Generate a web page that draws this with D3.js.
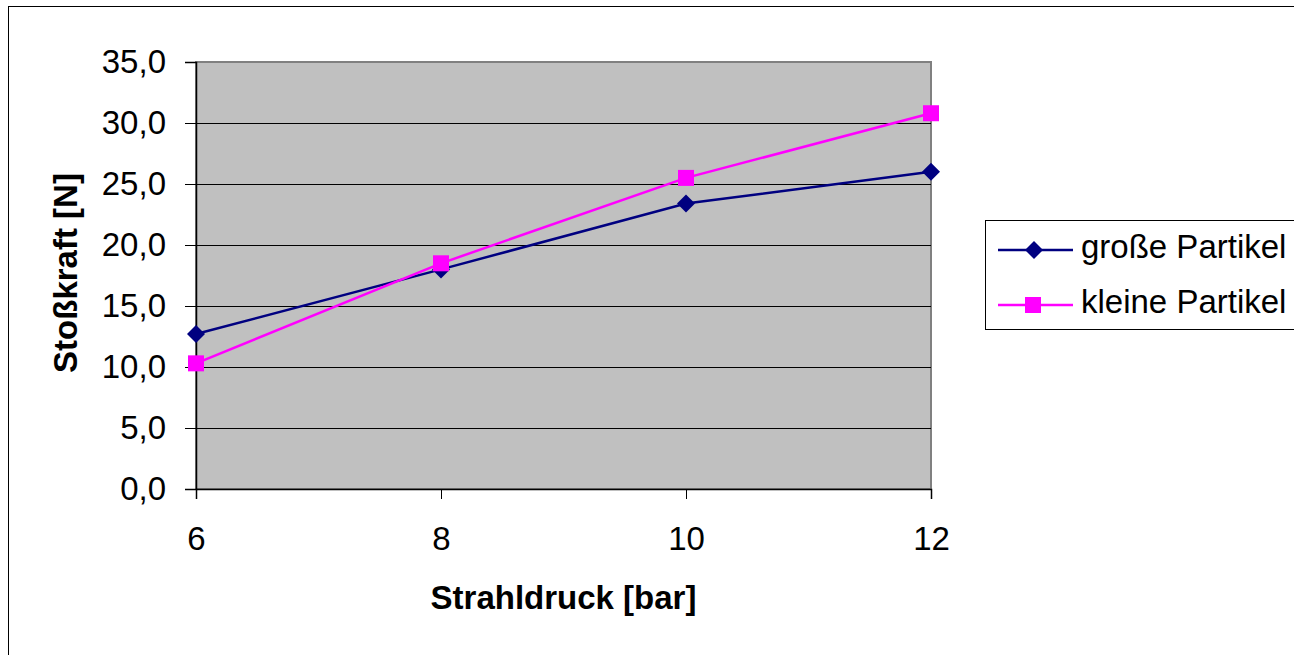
<!DOCTYPE html>
<html><head><meta charset="utf-8">
<script src="https://cdn.jsdelivr.net/npm/d3@7"></script>
<style>html,body{margin:0;padding:0;background:#fff;overflow:hidden}</style>
</head><body>
<svg id="c" width="1294" height="655"></svg>
<script>
const categories = [6, 8, 10, 12];
const grosse = [12.7, 18.0, 23.4, 26.0];
const kleine = [10.3, 18.5, 25.5, 30.8];
const yTicks = [0, 5, 10, 15, 20, 25, 30, 35];
const seriesNames = ["große Partikel", "kleine Partikel"];

const svg = d3.select("#c");
const font = "'Liberation Sans', Arial, sans-serif";
const FS = 33;
const L = 196, R = 931, T = 62, B = 489;

svg.append("rect").attr("x", 8.5).attr("y", 6.5).attr("width", 1400).attr("height", 800)
  .attr("fill", "#fff").attr("stroke", "#000").attr("stroke-width", 1);

const x = d3.scalePoint().domain(categories).range([L, R]);
const y = d3.scaleLinear().domain([0, 35]).range([B, T]);

svg.append("rect").attr("x", L).attr("y", T).attr("width", R - L).attr("height", B - T)
  .attr("fill", "#c0c0c0").attr("stroke", "#808080").attr("stroke-width", 2);

svg.append("g").selectAll("line").data(yTicks.filter(d => d > 0 && d < 35)).join("line")
  .attr("x1", L).attr("x2", R).attr("y1", d => Math.round(y(d)) + 0.5).attr("y2", d => Math.round(y(d)) + 0.5)
  .attr("stroke", "#000").attr("stroke-width", 1);

const fmt = d => d.toFixed(1).replace(".", ",");
const yAxis = svg.append("g").attr("transform", `translate(${L},0)`)
  .call(d3.axisLeft(y).tickValues(yTicks).tickFormat(fmt).tickSize(11).tickPadding(19));
yAxis.select(".domain").attr("stroke", "#000").attr("stroke-width", 1.5);
yAxis.selectAll(".tick line").attr("stroke", "#000");
yAxis.selectAll("text").attr("font-family", font).attr("font-size", FS).attr("fill", "#000");

const xAxis = svg.append("g").attr("transform", `translate(0,${B})`)
  .call(d3.axisBottom(x).tickSize(10).tickPadding(28));
xAxis.select(".domain").attr("stroke", "#000").attr("stroke-width", 1.5);
xAxis.selectAll(".tick line").attr("stroke", "#000");
xAxis.selectAll("text").attr("font-family", font).attr("font-size", FS).attr("fill", "#000");

svg.append("text").attr("x", (L + R) / 2).attr("y", 609).attr("text-anchor", "middle")
  .attr("font-family", font).attr("font-weight", "bold").attr("font-size", FS).text("Strahldruck [bar]");
svg.append("text").attr("transform", `translate(77,273) rotate(-90)`).attr("text-anchor", "middle")
  .attr("font-family", font).attr("font-weight", "bold").attr("font-size", FS).text("Stoßkraft [N]");

const line = d3.line().x((d, i) => x(categories[i])).y(d => y(d));
const colors = ["#000080", "#ff00ff"];
const diamond = (g, cx, cy) => g.append("path")
  .attr("d", `M${cx},${cy - 9}L${cx + 9},${cy}L${cx},${cy + 9}L${cx - 9},${cy}Z`).attr("fill", colors[0]);
const square = (g, cx, cy) => g.append("rect").attr("x", cx - 8).attr("y", cy - 8)
  .attr("width", 16).attr("height", 16).attr("fill", colors[1]);

[grosse, kleine].forEach((s, k) => {
  svg.append("path").datum(s).attr("d", line).attr("fill", "none")
    .attr("stroke", colors[k]).attr("stroke-width", 2.5);
});
const mg = svg.append("g");
grosse.forEach((v, i) => diamond(mg, x(categories[i]), y(v)));
kleine.forEach((v, i) => square(mg, x(categories[i]), y(v)));

const lg = svg.append("g");
lg.append("rect").attr("x", 985.5).attr("y", 220.5).attr("width", 400).attr("height", 109)
  .attr("fill", "#fff").attr("stroke", "#000").attr("stroke-width", 1);
const rowsY = [250, 305];
seriesNames.forEach((n, k) => {
  lg.append("line").attr("x1", 998).attr("x2", 1073).attr("y1", rowsY[k]).attr("y2", rowsY[k])
    .attr("stroke", colors[k]).attr("stroke-width", 2.5);
  if (k === 0) diamond(lg, 1034, rowsY[k]); else square(lg, 1033, rowsY[k]);
  lg.append("text").attr("x", 1081).attr("y", rowsY[k] + 8).attr("font-family", font)
    .attr("font-size", FS).text(n);
});
</script>
</body></html>
